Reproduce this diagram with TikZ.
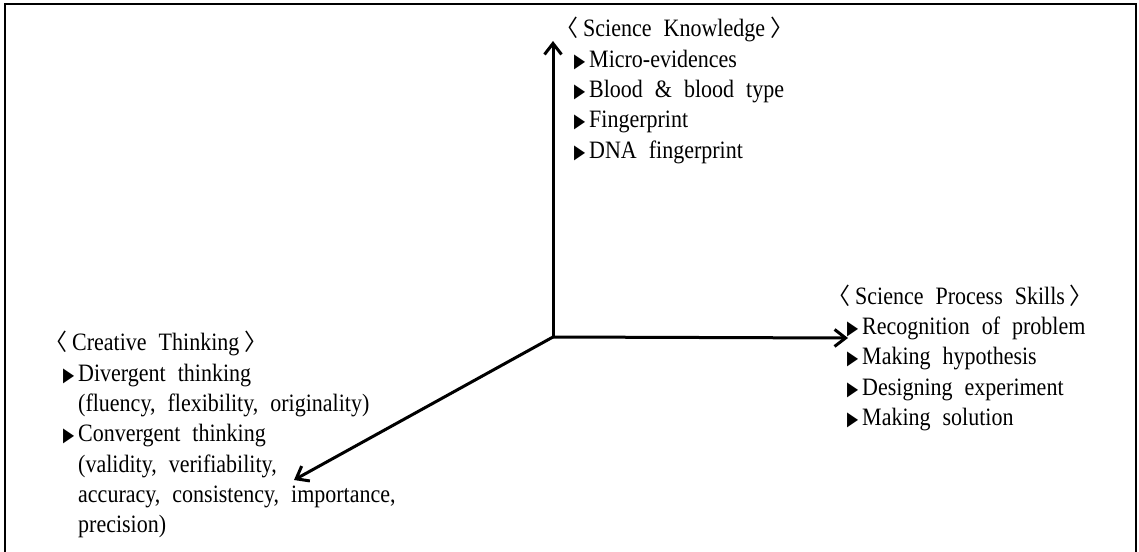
\documentclass[tikz,border=0pt]{standalone}
\usepackage{fontspec}
\usepackage{graphicx}
\setmainfont{Liberation Serif}[FakeStretch=0.88]
\newfontfamily\cjkfont{Noto Sans CJK SC}
\newfontfamily\dvsfont{DejaVu Sans}
\usetikzlibrary{arrows.meta}
\newcommand{\bul}{\llap{\scalebox{0.85}[1.15]{\dvsfont\fontsize{17}{17}\selectfont ▶}\hspace{4pt}}}
\newcommand{\lbr}{\llap{{\cjkfont\fontsize{23}{23}\selectfont 〈}\hspace{5pt}}}
\newcommand{\rbr}{\hspace{5pt}{\cjkfont\fontsize{23}{23}\selectfont 〉}}
\newcommand{\widesp}{\spaceskip=12pt plus 2pt\relax}
\tikzset{
  txt/.style={anchor=base west, inner sep=0pt, font=\fontsize{25}{30}\selectfont, execute at begin node=\widesp},
  axis/.style={line width=3pt, -{Straight Barb[length=11pt,width=17pt,line width=3pt]}},
  frame/.style={line width=1.7pt}
}
\begin{document}
\begin{tikzpicture}[x=1pt,y=-1pt]
\useasboundingbox (0,0) rectangle (1139,551);
% frame
\draw[frame] (5,552) -- (5,4) -- (1136,4) -- (1136,552);
% axes
\coordinate (o) at (553,337);
\coordinate (up) at (553,41);
\coordinate (right) at (848,338);
\coordinate (diag) at (294,480);
\draw[axis] (o) -- (up);
\draw[axis] (o) -- (right);
\draw[axis] (o) -- (diag);
% Science Knowledge
\node[txt] (sk0) at (583,37) {\lbr Science Knowledge\rbr};
\node[txt] (sk1) at (589,67) {\bul Micro-evidences};
\node[txt] (sk2) at (589,97) {\bul Blood \& blood type};
\node[txt] (sk3) at (589,127) {\bul Fingerprint};
\node[txt] (sk4) at (589,158) {\bul DNA fingerprint};
% Science Process Skills
\node[txt] (sp0) at (855,304) {\lbr Science Process Skills\rbr};
\node[txt] (sp1) at (862,334) {\bul Recognition of problem};
\node[txt] (sp2) at (862,364) {\bul Making hypothesis};
\node[txt] (sp3) at (862,395) {\bul Designing experiment};
\node[txt] (sp4) at (862,425) {\bul Making solution};
% Creative Thinking
\node[txt] (ct0) at (72,350) {\lbr Creative Thinking\rbr};
\node[txt] (ct1) at (78,381) {\bul Divergent thinking};
\node[txt] (ct2) at (78,411) {(fluency, flexibility, originality)};
\node[txt] (ct3) at (78,441) {\bul Convergent thinking};
\node[txt] (ct4) at (78,472) {(validity, verifiability,};
\node[txt] (ct5) at (78,502) {accuracy, consistency, importance,};
\node[txt] (ct6) at (78,532) {precision)};
\end{tikzpicture}
\end{document}
